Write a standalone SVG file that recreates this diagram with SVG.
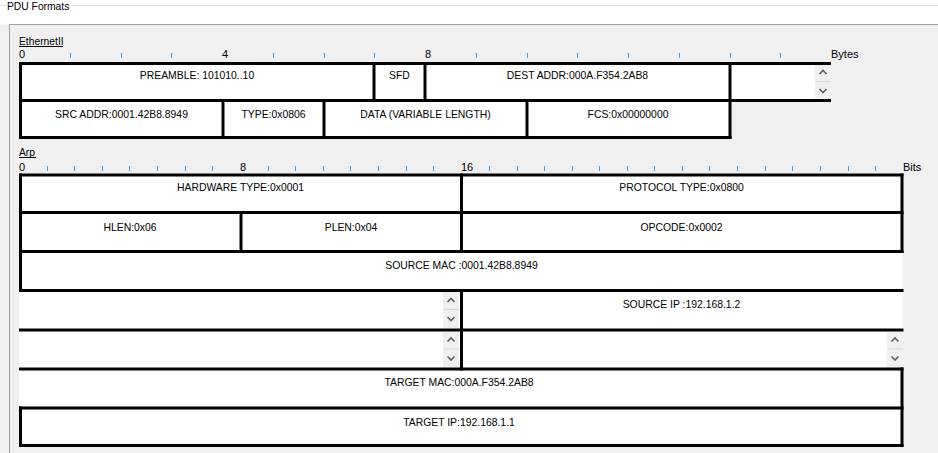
<svg xmlns="http://www.w3.org/2000/svg" width="938" height="453" viewBox="0 0 938 453">
<style>
.t{font-family:"Liberation Sans",Arial,sans-serif;font-size:10.4px;fill:#000;text-anchor:middle}
.r{font-family:"Liberation Sans",Arial,sans-serif;font-size:11px;fill:#000}
.h{font-family:"Liberation Sans",Arial,sans-serif;font-size:10.3px;fill:#000}
.cell{fill:#fff}
.b{stroke:#000;stroke-width:3;fill:none}
.tk{stroke:#4a9cf0;stroke-width:1}
.sc{fill:#f0f0f0}
.sl{stroke:#d6d6d6;stroke-width:1}
.ch{stroke:#606060;stroke-width:1.6;fill:none}
</style>
<defs>
<g id="scroll">
<rect class="sc" x="0" y="0" width="16" height="36"/>
<line class="sl" x1="0" y1="17.5" x2="16" y2="17.5"/>
<path class="ch" d="M4.5,10 L8,6.5 L11.5,10"/>
<path class="ch" d="M4.5,25 L8,28.5 L11.5,25"/>
</g>
</defs>
<rect x="0" y="0" width="938" height="453" fill="#f0f0f0"/>
<rect x="0" y="0" width="938" height="24.5" fill="#fff"/>
<g id="groupbox">
<line x1="0" y1="5.5" x2="6" y2="5.5" stroke="#dcdcdc"/>
<line x1="69" y1="5.5" x2="938" y2="5.5" stroke="#dcdcdc"/>
<text class="h" x="7" y="10">PDU Formats</text>
</g>
<path d="M9.5,453 V24.5 H938" stroke="#a0a0a0" fill="none"/>

<g id="ethernet-header">
<text class="h" x="19" y="45">EthernetII</text>
<line x1="19" y1="46.5" x2="63" y2="46.5" stroke="#000"/>
<text class="r" x="19" y="58">0</text>
<text class="r" x="222" y="58">4</text>
<text class="r" x="425" y="58">8</text>
<text class="r" x="831" y="58">Bytes</text>
<g id="eth-ticks">
<line class="tk" x1="70.5" y1="53" x2="70.5" y2="58"/>
<line class="tk" x1="121.5" y1="53" x2="121.5" y2="58"/>
<line class="tk" x1="171.5" y1="53" x2="171.5" y2="58"/>
<line class="tk" x1="273.5" y1="53" x2="273.5" y2="58"/>
<line class="tk" x1="324.5" y1="53" x2="324.5" y2="58"/>
<line class="tk" x1="374.5" y1="53" x2="374.5" y2="58"/>
<line class="tk" x1="476.5" y1="53" x2="476.5" y2="58"/>
<line class="tk" x1="527.5" y1="53" x2="527.5" y2="58"/>
<line class="tk" x1="577.5" y1="53" x2="577.5" y2="58"/>
<line class="tk" x1="628.5" y1="53" x2="628.5" y2="58"/>
<line class="tk" x1="679.5" y1="53" x2="679.5" y2="58"/>
<line class="tk" x1="730.5" y1="53" x2="730.5" y2="58"/>
<line class="tk" x1="780.5" y1="53" x2="780.5" y2="58"/>
</g>
</g>

<g id="eth-preamble"><rect class="cell" x="20" y="63" width="354" height="38"/><text class="t" x="197" y="79">PREAMBLE: 101010..10</text></g>
<g id="eth-sfd"><rect class="cell" x="374" y="63" width="51" height="38"/><text class="t" x="399.5" y="79">SFD</text></g>
<g id="eth-dest"><rect class="cell" x="425" y="63" width="305" height="38"/><text class="t" x="577.5" y="79">DEST ADDR:000A.F354.2AB8</text></g>
<g id="eth-extra"><rect class="cell" x="730" y="63" width="101" height="38"/><use href="#scroll" x="815" y="64"/></g>
<g id="eth-src"><rect class="cell" x="20" y="100" width="203" height="38"/><text class="t" x="121.5" y="118">SRC ADDR:0001.42B8.8949</text></g>
<g id="eth-type"><rect class="cell" x="223" y="100" width="101" height="38"/><text class="t" x="273.5" y="118">TYPE:0x0806</text></g>
<g id="eth-data"><rect class="cell" x="324" y="100" width="203" height="38"/><text class="t" x="425.5" y="118">DATA (VARIABLE LENGTH)</text></g>
<g id="eth-fcs"><rect class="cell" x="527" y="100" width="203" height="38"/><text class="t" x="628" y="118">FCS:0x00000000</text></g>

<g id="arp-header">
<text class="h" x="19" y="156">Arp</text>
<line x1="19" y1="157.5" x2="36" y2="157.5" stroke="#000"/>
<text class="r" x="19" y="171">0</text>
<text class="r" x="240" y="171">8</text>
<text class="r" x="461" y="171">16</text>
<text class="r" x="903" y="171">Bits</text>
<g id="arp-ticks">
<line class="tk" x1="47.5" y1="166" x2="47.5" y2="171"/>
<line class="tk" x1="74.5" y1="166" x2="74.5" y2="171"/>
<line class="tk" x1="102.5" y1="166" x2="102.5" y2="171"/>
<line class="tk" x1="129.5" y1="166" x2="129.5" y2="171"/>
<line class="tk" x1="157.5" y1="166" x2="157.5" y2="171"/>
<line class="tk" x1="185.5" y1="166" x2="185.5" y2="171"/>
<line class="tk" x1="212.5" y1="166" x2="212.5" y2="171"/>
<line class="tk" x1="268.5" y1="166" x2="268.5" y2="171"/>
<line class="tk" x1="295.5" y1="166" x2="295.5" y2="171"/>
<line class="tk" x1="323.5" y1="166" x2="323.5" y2="171"/>
<line class="tk" x1="350.5" y1="166" x2="350.5" y2="171"/>
<line class="tk" x1="378.5" y1="166" x2="378.5" y2="171"/>
<line class="tk" x1="406.5" y1="166" x2="406.5" y2="171"/>
<line class="tk" x1="433.5" y1="166" x2="433.5" y2="171"/>
<line class="tk" x1="489.5" y1="166" x2="489.5" y2="171"/>
<line class="tk" x1="517.5" y1="166" x2="517.5" y2="171"/>
<line class="tk" x1="544.5" y1="166" x2="544.5" y2="171"/>
<line class="tk" x1="572.5" y1="166" x2="572.5" y2="171"/>
<line class="tk" x1="599.5" y1="166" x2="599.5" y2="171"/>
<line class="tk" x1="627.5" y1="166" x2="627.5" y2="171"/>
<line class="tk" x1="654.5" y1="166" x2="654.5" y2="171"/>
<line class="tk" x1="682.5" y1="166" x2="682.5" y2="171"/>
<line class="tk" x1="709.5" y1="166" x2="709.5" y2="171"/>
<line class="tk" x1="737.5" y1="166" x2="737.5" y2="171"/>
<line class="tk" x1="765.5" y1="166" x2="765.5" y2="171"/>
<line class="tk" x1="792.5" y1="166" x2="792.5" y2="171"/>
<line class="tk" x1="820.5" y1="166" x2="820.5" y2="171"/>
<line class="tk" x1="848.5" y1="166" x2="848.5" y2="171"/>
<line class="tk" x1="875.5" y1="166" x2="875.5" y2="171"/>
</g>
</g>

<g id="arp-hwtype"><rect class="cell" x="19" y="175" width="442.5" height="38"/><text class="t" x="240.5" y="191">HARDWARE TYPE:0x0001</text></g>
<g id="arp-prtype"><rect class="cell" x="461.5" y="175" width="441.5" height="38"/><text class="t" x="681.5" y="191">PROTOCOL TYPE:0x0800</text></g>
<g id="arp-hlen"><rect class="cell" x="19" y="212.5" width="222" height="39"/><text class="t" x="130" y="230.5">HLEN:0x06</text></g>
<g id="arp-plen"><rect class="cell" x="241" y="212.5" width="220.5" height="39"/><text class="t" x="351" y="230.5">PLEN:0x04</text></g>
<g id="arp-opcode"><rect class="cell" x="461.5" y="212.5" width="441.5" height="39"/><text class="t" x="681.5" y="230.5">OPCODE:0x0002</text></g>
<g id="arp-srcmac"><rect class="cell" x="19" y="251.5" width="884" height="39"/><text class="t" x="461.5" y="269">SOURCE MAC :0001.42B8.8949</text></g>
<g id="arp-row4-left"><rect class="cell" x="19" y="290.5" width="442.5" height="39.5"/><use href="#scroll" x="443" y="292"/></g>
<g id="arp-srcip"><rect class="cell" x="461.5" y="290.5" width="441.5" height="39.5"/><text class="t" x="681.5" y="308">SOURCE IP :192.168.1.2</text></g>
<g id="arp-row5-left"><rect class="cell" x="19" y="330" width="442.5" height="39"/><use href="#scroll" x="443" y="331.5"/></g>
<g id="arp-row5-right"><rect class="cell" x="461.5" y="330" width="441.5" height="39"/><use href="#scroll" x="887" y="331.5"/></g>
<g id="arp-tgtmac"><rect class="cell" x="19" y="369" width="884" height="39"/><text class="t" x="459" y="386">TARGET MAC:000A.F354.2AB8</text></g>
<g id="arp-tgtip"><rect class="cell" x="19" y="408" width="884" height="38"/><text class="t" x="459" y="425.5">TARGET IP:192.168.1.1</text></g>

<g id="borders">
<line class="b" x1="19" y1="63.5" x2="831" y2="63.5"/>
<line class="b" x1="19" y1="100.5" x2="831" y2="100.5"/>
<line class="b" x1="19" y1="137.5" x2="731.5" y2="137.5"/>
<line class="b" x1="20.5" y1="62" x2="20.5" y2="139"/>
<line class="b" x1="374" y1="62" x2="374" y2="102"/>
<line class="b" x1="425" y1="62" x2="425" y2="102"/>
<line class="b" x1="730" y1="62" x2="730" y2="139"/>
<line class="b" x1="223" y1="99" x2="223" y2="139"/>
<line class="b" x1="324" y1="99" x2="324" y2="139"/>
<line class="b" x1="527" y1="99" x2="527" y2="139"/>

<line class="b" x1="19" y1="175" x2="903.5" y2="175"/>
<line class="b" x1="19" y1="212.5" x2="903.5" y2="212.5"/>
<line class="b" x1="19" y1="251.5" x2="903.5" y2="251.5"/>
<line class="b" x1="19" y1="290.5" x2="903.5" y2="290.5"/>
<line class="b" x1="19" y1="330" x2="903.5" y2="330"/>
<line class="b" x1="19" y1="369" x2="903.5" y2="369"/>
<line class="b" x1="19" y1="408" x2="903.5" y2="408"/>
<line class="b" x1="19" y1="445.5" x2="903.5" y2="445.5"/>
<line class="b" x1="20.5" y1="173.5" x2="20.5" y2="292"/>
<line class="b" x1="20.5" y1="406.5" x2="20.5" y2="447"/>
<line class="b" x1="902" y1="173.5" x2="902" y2="253"/>
<line class="b" x1="902" y1="367.5" x2="902" y2="447"/>
<line class="b" x1="461.5" y1="173.5" x2="461.5" y2="253"/>
<line class="b" x1="461.5" y1="289" x2="461.5" y2="370.5"/>
<line class="b" x1="241" y1="211" x2="241" y2="253"/>
</g>
</svg>
